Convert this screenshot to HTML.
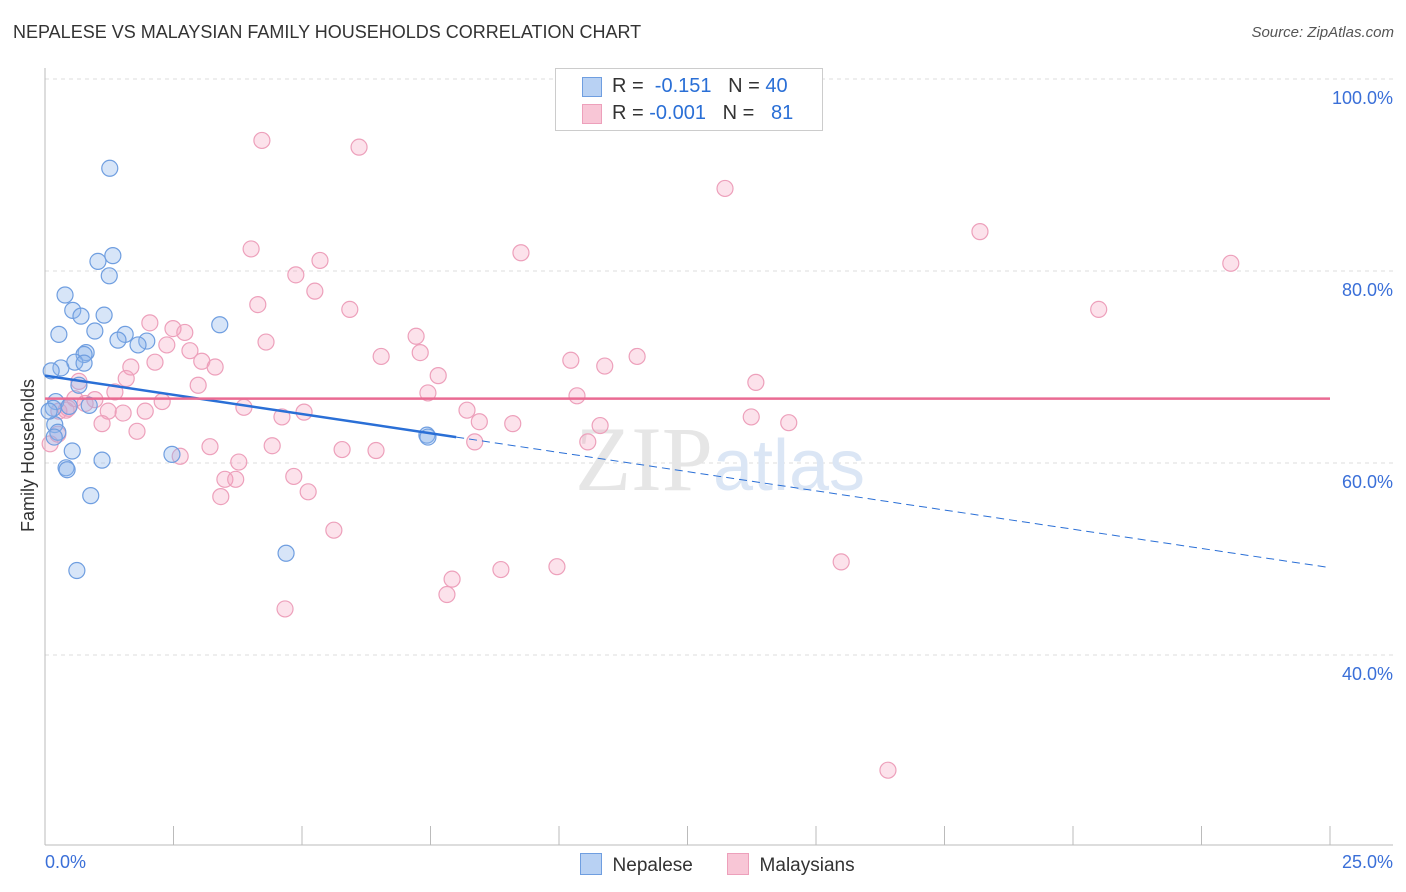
<!DOCTYPE html>
<html><head><meta charset="utf-8"><style>
body{margin:0;background:#fff;font-family:"Liberation Sans",sans-serif;}
#wrap{position:relative;width:1406px;height:892px;overflow:hidden;}
.t{position:absolute;white-space:nowrap;}
</style></head><body>
<div id="wrap">
<div class="t" style="left:13px;top:22px;font-size:18px;color:#333;">NEPALESE VS MALAYSIAN FAMILY HOUSEHOLDS CORRELATION CHART</div>
<div class="t" style="right:12px;top:24px;font-size:15px;color:#555;font-style:italic;">Source: ZipAtlas.com</div>
<svg id="svg" width="1406" height="892" style="position:absolute;left:0;top:0"></svg>
</div>
<script>
const xTicks=[0,2.5,5,7.5,10,12.5,15,17.5,20,22.5,25];
const yTicks=[40,60,80,100];
const yTickLabels=["40.0%","60.0%","80.0%","100.0%"];
const nepX=[1.26,1.32,1.03,1.25,0.39,0.54,1.15,0.70,0.27,0.97,1.56,1.42,1.98,1.81,3.40,0.80,0.76,0.58,0.76,0.31,0.12,0.66,0.21,0.86,0.47,0.16,0.19,0.25,0.18,0.53,1.11,2.47,0.41,0.43,0.89,0.62,4.69,7.43,7.45,0.08];
const nepY=[90.7,81.6,81.0,79.5,77.5,75.9,75.4,75.3,73.4,73.75,73.4,72.8,72.7,72.3,74.4,71.5,71.3,70.5,70.4,69.9,69.6,68.1,66.4,66.0,65.9,65.7,64.0,63.2,62.7,61.25,60.3,60.9,59.5,59.3,56.6,48.8,50.6,62.9,62.7,65.4];
const malX=[4.22,6.11,13.23,18.19,4.01,9.26,23.07,5.35,4.88,5.25,4.14,5.93,20.50,2.04,2.49,2.72,7.22,4.30,2.37,2.82,6.54,7.30,11.52,10.23,3.05,2.14,3.31,1.67,10.89,7.65,1.58,13.83,0.66,2.98,1.36,7.45,10.35,0.97,0.78,2.28,3.87,5.04,8.21,1.95,1.23,1.52,0.27,0.45,4.61,1.11,13.74,14.47,8.45,9.10,10.80,1.79,0.25,8.36,10.56,3.21,4.42,5.78,6.44,2.63,3.77,3.50,3.71,4.84,5.12,3.42,5.62,15.49,8.87,9.96,7.92,7.82,4.67,16.40,0.10,0.41,0.58];
const malY=[93.6,92.9,88.6,84.1,82.3,81.9,80.8,81.1,79.6,77.9,76.5,76.0,76.0,74.6,74.0,73.6,73.2,72.6,72.3,71.7,71.1,71.5,71.1,70.7,70.6,70.5,70.0,70.0,70.1,69.1,68.8,68.4,68.5,68.1,67.4,67.3,67.0,66.6,66.2,66.4,65.8,65.3,65.5,65.4,65.4,65.2,65.4,65.7,64.8,64.1,64.8,64.2,64.3,64.1,63.9,63.3,63.0,62.2,62.2,61.7,61.8,61.4,61.3,60.7,60.1,58.3,58.3,58.6,57.0,56.5,53.0,49.7,48.9,49.2,47.9,46.3,44.8,28.0,62.0,65.5,66.7];
const nepFit=[69.1,-0.8];
const malFit=[66.7,0];
const NS="http://www.w3.org/2000/svg",svg=document.getElementById('svg');
const X0=45,X1=1330,xs=v=>X0+v/25*(X1-X0),ys=v=>79+(100-v)*9.6;
function el(t,a,p){const e=document.createElementNS(NS,t);for(const k in a)e.setAttribute(k,a[k]);(p||svg).appendChild(e);return e;}
yTicks.forEach((v,i)=>{const g=el('line',{x1:X0,x2:1393,y1:ys(v),y2:ys(v),stroke:'#ddd','stroke-dasharray':'4,4'});

const t=el('text',{x:1393,y:ys(v)+25,'text-anchor':'end','font-size':18,fill:'#3a6fd8'});t.textContent=yTickLabels[i];
});
const ax=el('line',{x1:X0,x2:X0,y1:68,y2:845,stroke:'#bbb'});
const bx=el('line',{x1:X0,x2:1393,y1:845,y2:845,stroke:'#bbb'});
xTicks.forEach(v=>{const l=el('line',{x1:xs(v),x2:xs(v),y1:826,y2:845,stroke:'#bbb'});});
const wm=el('text',{x:720,y:490,'text-anchor':'middle','font-size':92,fill:'#e6e6e6','font-family':'Liberation Serif'});wm.textContent='ZIP';
const wm2=el('tspan',{fill:'#dbe6f5','font-family':'Liberation Sans','font-size':72},wm);wm2.textContent='atlas';

malX.forEach((x,i)=>{const c=el('circle',{cx:xs(x),cy:ys(malY[i]),r:8,fill:'rgba(244,160,190,0.3)',stroke:'#eda0bb','stroke-width':1.2});
});
nepX.forEach((x,i)=>{const c=el('circle',{cx:xs(x),cy:ys(nepY[i]),r:8,fill:'rgba(140,180,235,0.35)',stroke:'#6f9ee0','stroke-width':1.2});
});
const f=(fit,x)=>fit[0]+fit[1]*x;
let l1=el('line',{x1:xs(0),y1:ys(f(nepFit,0)),x2:xs(8),y2:ys(f(nepFit,8)),stroke:'#2a6fd6','stroke-width':2.5});

let l2=el('line',{x1:xs(8),y1:ys(f(nepFit,8)),x2:xs(25),y2:ys(f(nepFit,25)),stroke:'#2a6fd6','stroke-width':1,'stroke-dasharray':'8,5'});

let l3=el('line',{x1:xs(0),y1:ys(f(malFit,0)),x2:xs(25),y2:ys(f(malFit,25)),stroke:'#ea6b93','stroke-width':2.5});

</script>
<div class="t" style="left:-48px;top:445px;font-size:18px;color:#333;transform:rotate(-90deg);">Family Households</div>
<div class="t" style="left:45px;top:852px;font-size:18px;color:#3a6fd8;">0.0%</div>
<div class="t" style="right:13px;top:852px;font-size:18px;color:#3a6fd8;">25.0%</div>
<div style="position:absolute;left:555px;top:68px;width:266px;height:61px;border:1px solid #ccc;background:#fff;font-size:20px;">
<div style="position:absolute;left:26px;top:8px;width:18px;height:18px;background:#b8d1f3;border:1px solid #6f9ee0"></div>
<div class="t" style="left:56px;top:6px;color:#333">R = <span style="color:#2a6fd6">&nbsp;-0.151</span>&nbsp;&nbsp;&nbsp;N = <span style="color:#2a6fd6">40</span></div>
<div style="position:absolute;left:26px;top:35px;width:18px;height:18px;background:#f8c6d6;border:1px solid #eda0bb"></div>
<div class="t" style="left:56px;top:33px;color:#333">R = <span style="color:#2a6fd6">-0.001</span>&nbsp;&nbsp;&nbsp;N = <span style="color:#2a6fd6">&nbsp;&nbsp;81</span></div>
</div>
<div style="position:absolute;left:580px;top:853px;font-size:19px;color:#333;">
<span style="display:inline-block;width:20px;height:20px;background:#b8d1f3;border:1px solid #6f9ee0;vertical-align:-4px"></span>&nbsp; Nepalese</div>
<div style="position:absolute;left:727px;top:853px;font-size:19px;color:#333;">
<span style="display:inline-block;width:20px;height:20px;background:#f8c6d6;border:1px solid #eda0bb;vertical-align:-4px"></span>&nbsp; Malaysians</div>
</body></html>
